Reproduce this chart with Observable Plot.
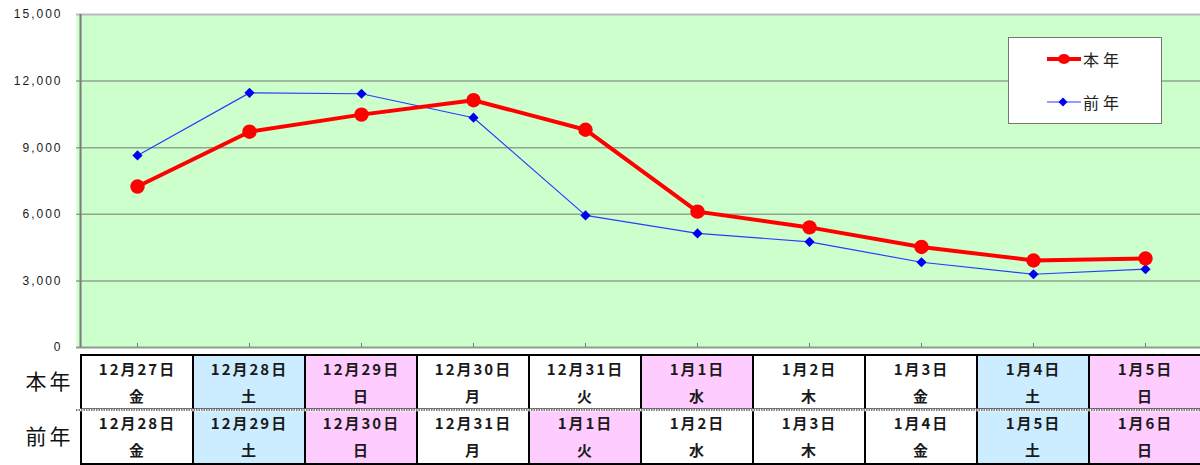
<!DOCTYPE html>
<html>
<head>
<meta charset="utf-8">
<script src="https://cdn.jsdelivr.net/npm/d3@7"></script>
<script src="https://cdn.jsdelivr.net/npm/@observablehq/plot@0.6"></script>
<style>
  html, body { margin: 0; padding: 0; background: #fff; overflow: hidden; }
  #wrap { position: relative; width: 1200px; height: 465px; }
  #chart, #table { position: absolute; left: 0; }
  #chart { top: 0; }
  #table { top: 352px; }
  #chart svg, #table svg { display: block; max-width: none; }
  #chart [aria-label="y-axis tick label"] text { letter-spacing: 2px; }
  #table [aria-label="text"] text { letter-spacing: 2px; }
  #table [aria-label="y-axis tick label"] text { letter-spacing: 3px; }
  #legend {
    position: absolute; left: 1008px; top: 37px; width: 154px; height: 87px;
    background: #fff; border: 1px solid #777; box-sizing: border-box;
    font-family: "Noto Sans CJK JP", sans-serif; font-size: 16px; color: #222;
  }
  #legend .row { position: absolute; left: 37px; height: 20px; display: flex; align-items: center; }
  #legend .row span { margin-left: 1px; letter-spacing: 4px; }
</style>
</head>
<body>
<div id="wrap">
  <div id="chart"></div>
  <div id="table"></div>
  <div id="legend"></div>
</div>
<script>
// ---- data ----
const categories = [0, 1, 2, 3, 4, 5, 6, 7, 8, 9];
const seriesNames = ["本年", "前年"];
const thisYear = [7250, 9720, 10490, 11140, 9810, 6120, 5410, 4530, 3920, 4010];
const lastYear = [8650, 11470, 11430, 10350, 5950, 5140, 4760, 3840, 3300, 3530];
const yTicks = [0, 3000, 6000, 9000, 12000, 15000];

const thisYearDates = ["12月27日", "12月28日", "12月29日", "12月30日", "12月31日", "1月1日", "1月2日", "1月3日", "1月4日", "1月5日"];
const thisYearDays = ["金", "土", "日", "月", "火", "水", "木", "金", "土", "日"];
const thisYearKinds = ["weekday", "saturday", "holiday", "weekday", "weekday", "holiday", "weekday", "weekday", "saturday", "holiday"];
const lastYearDates = ["12月28日", "12月29日", "12月30日", "12月31日", "1月1日", "1月2日", "1月3日", "1月4日", "1月5日", "1月6日"];
const lastYearDays = ["金", "土", "日", "月", "火", "水", "木", "金", "土", "日"];
const lastYearKinds = ["weekday", "saturday", "holiday", "weekday", "holiday", "weekday", "weekday", "weekday", "saturday", "holiday"];
const kindNames = ["weekday", "saturday", "holiday"];

// ---- derived tables ----
const ptsThis = categories.map((c, i) => ({c, v: thisYear[i]}));
const ptsLast = categories.map((c, i) => ({c, v: lastYear[i]}));
const rows = [
  ...categories.map((c, i) => ({c, r: 0, date: thisYearDates[i], day: thisYearDays[i], kind: thisYearKinds[i]})),
  ...categories.map((c, i) => ({c, r: 1, date: lastYearDates[i], day: lastYearDays[i], kind: lastYearKinds[i]}))
];

const xRange = [76.5, 1205.5];
const halfBand = (xRange[1] - xRange[0]) / categories.length / 2;

// ---- chart ----
const chart = Plot.plot({
  width: 1200,
  height: 357,
  marginTop: 14,
  marginBottom: 10,
  marginLeft: 76,
  marginRight: 0,
  style: {fontFamily: "'Liberation Sans', Arial, sans-serif", fontSize: "12px", color: "#1a1a1a", background: "transparent"},
  x: {type: "band", domain: categories, range: xRange, padding: 0, label: null, axis: null},
  y: {domain: [0, 15000], range: [347, 14], label: null, axis: null},
  marks: [
    Plot.frame({fill: "#ccffcc"}),
    Plot.ruleY(yTicks.filter(t => t > 0 && t < 15000), {stroke: "#8ea58e", strokeWidth: 1.5}),
    Plot.ruleY([15000], {stroke: "#bbbbbb", strokeWidth: 2}),
    Plot.ruleY([0], {stroke: "#8e9e8e", strokeWidth: 2}),
    Plot.tickX(categories, {x: d => d, insetTop: 329, stroke: "#777", strokeWidth: 1}),
    Plot.axisY({ticks: yTicks, tickFormat: d3.format(","), tickSize: 0, tickPadding: 14, fontSize: 12, label: null}),
    Plot.ruleX([categories[0]], {x: d => d, dx: -halfBand - 0.5, stroke: "#7a7a7a", strokeWidth: 2}),
    Plot.line(ptsLast, {x: "c", y: "v", stroke: "#2b3cff", strokeWidth: 1.2}),
    Plot.dot(ptsLast, {x: "c", y: "v", symbol: "diamond2", r: 4.6, fill: "#0000f0", stroke: "none"}),
    Plot.line(ptsThis, {x: "c", y: "v", stroke: "#ff0000", strokeWidth: 4}),
    Plot.dot(ptsThis, {x: "c", y: "v", r: 7.2, fill: "#ff0000", stroke: "none"})
  ]
});
document.getElementById("chart").append(chart);

// ---- table ----
const table = Plot.plot({
  width: 1200,
  height: 113,
  marginTop: 3,
  marginBottom: 1,
  marginLeft: 76,
  marginRight: 0,
  style: {fontFamily: "'Noto Sans CJK JP', sans-serif", fontSize: "14px", color: "#111", background: "transparent"},
  x: {type: "band", domain: categories, range: xRange, padding: 0, axis: null, label: null},
  y: {domain: [0, 2], range: [3, 112], label: null, axis: null},
  color: {domain: kindNames, range: ["#ffffff", "#ccecff", "#ffccff"]},
  marks: [
    Plot.barY(rows, {x: "c", y1: "r", y2: d => d.r + 1, fill: "kind", stroke: "#000", strokeWidth: 2, inset: 0}),
    Plot.ruleY([1], {stroke: "#ffffff", strokeWidth: 2.5}),
    Plot.ruleY([1], {stroke: "#555", strokeWidth: 1.5, strokeDasharray: "1.5,1"}),
    Plot.text(rows, {x: "c", y: d => d.r + 0.5, text: "date", dy: -13, fontSize: 15, fontWeight: "bold", fill: "#1a1a1a"}),
    Plot.text(rows, {x: "c", y: d => d.r + 0.5, text: "day", dy: 14, fontSize: 15, fontWeight: "bold", fill: "#1a1a1a"}),
    Plot.axisY({ticks: [0.5, 1.5], tickFormat: d => seriesNames[Math.floor(d)], tickSize: 0, tickPadding: 3, fontSize: 21, fill: "#111", label: null})
  ]
});
document.getElementById("table").append(table);

// ---- legend ----
const legend = document.getElementById("legend");
const entries = [
  {name: seriesNames[0], top: 11, color: "#ff0000", w: 4, marker: "circle"},
  {name: seriesNames[1], top: 54, color: "#2b3cff", w: 1.2, marker: "diamond"}
];
for (const e of entries) {
  const row = document.createElement("div");
  row.className = "row";
  row.style.top = e.top + "px";
  const ns = "http://www.w3.org/2000/svg";
  const svg = document.createElementNS(ns, "svg");
  svg.setAttribute("width", 36); svg.setAttribute("height", 20);
  const ln = document.createElementNS(ns, "line");
  ln.setAttribute("x1", 1); ln.setAttribute("x2", 35); ln.setAttribute("y1", 10); ln.setAttribute("y2", 10);
  ln.setAttribute("stroke", e.color); ln.setAttribute("stroke-width", e.w);
  svg.append(ln);
  if (e.marker === "circle") {
    const c = document.createElementNS(ns, "ellipse");
    c.setAttribute("cx", 18); c.setAttribute("cy", 10); c.setAttribute("rx", 6); c.setAttribute("ry", 5);
    c.setAttribute("fill", "#ff0000");
    svg.append(c);
  } else {
    const p = document.createElementNS(ns, "path");
    p.setAttribute("d", "M17,5.5L21.5,10L17,14.5L12.5,10Z");
    p.setAttribute("fill", "#0000f0");
    svg.append(p);
  }
  row.append(svg);
  const sp = document.createElement("span");
  sp.textContent = e.name;
  row.append(sp);
  legend.append(row);
}
</script>
</body>
</html>
